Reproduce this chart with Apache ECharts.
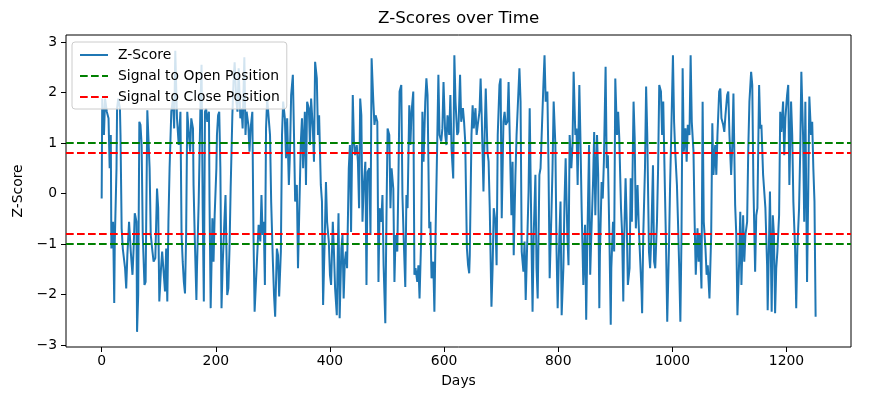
<!DOCTYPE html>
<html lang="en">
<head>
    <meta charset="UTF-8">
    <title>Z-Scores over Time</title>
    <script src="https://cdn.jsdelivr.net/npm/echarts@6/dist/echarts.min.js"></script>
    <style>
        html, body { margin: 0; padding: 0; background: #fff; }
        #main { width: 885px; height: 401px; }
    </style>
</head>
<body>
    <div id="main"></div>
    <script>
        // values (day, z-score)
        var days = [
            0, 1, 4, 6, 9, 12, 14, 16, 17, 20, 22, 23, 26, 27, 29, 32, 33, 35, 37, 41, 43, 45, 48, 51, 54, 56, 58, 61, 62, 64,
            66, 68, 70, 72, 75, 77, 80, 82, 84, 86, 89, 91, 94, 97, 99, 101, 104, 106, 109, 111, 113, 115, 117, 119, 122, 125, 127, 129,
            132, 135, 138, 140, 142, 144, 146, 148, 150, 153, 155, 157, 160, 161, 163, 166, 167, 170, 173, 175, 177, 179, 181, 183, 185, 188,
            189, 191, 194, 196, 198, 201, 202, 204, 206, 208, 210, 212, 215, 217, 220, 222, 224, 226, 229, 231, 233, 236, 238, 240, 243, 245,
            247, 250, 252, 254, 257, 259, 261, 264, 266, 268,
            272, 275, 278, 280, 282, 284, 286, 288, 290, 293, 295, 297, 300, 302, 304, 307, 309, 311, 314, 316, 318, 321, 323, 325, 328, 330,
            332, 335, 337, 339, 342, 344, 346, 349, 351, 353, 356, 358, 360, 363, 365, 367, 370, 372, 374, 377, 379, 381, 384, 386, 388, 391,
            393, 395, 398, 400, 402, 405, 407,
            409, 412, 414, 415, 417, 420, 422, 424, 426, 428, 430, 433, 435, 437, 440, 442, 444, 447, 449, 451, 453, 455, 457, 459, 462, 464,
            466, 469, 471, 473, 476, 478, 480, 483, 485, 487, 490, 492, 494, 497, 499, 501, 504, 506, 508, 511, 513, 515, 518, 520, 522, 525,
            527, 529, 532, 534, 536, 539, 541, 543, 546, 548, 550, 553, 555, 557, 560, 562, 564, 567, 569, 571, 574, 576, 578, 581, 583, 585,
            588, 590, 592, 595, 597, 599, 602, 604, 606, 609, 611, 613, 616, 618, 620, 623, 625,
            628, 630, 633, 635, 637, 640, 642, 644, 645, 648, 650, 652, 655, 657, 659, 662, 664, 666, 669, 671, 673, 676, 678, 680, 683, 685,
            687, 690, 692, 694, 697, 699, 701, 704, 706, 708, 711, 713, 715, 718, 720, 722, 725, 727, 729, 732, 734, 736, 739, 741, 743, 746,
            748, 750, 753, 755, 757, 760, 762, 764, 767, 769, 771, 774, 776, 778, 781, 783, 785, 788, 790, 792, 795, 797, 799, 802, 804, 806,
            809, 811, 813, 816, 818, 820, 823, 825, 827, 830, 832, 834, 837, 839, 841, 844,
            847, 849, 851, 854, 856, 858, 861, 863, 865, 868, 870, 872, 873, 876, 878, 880, 883, 885, 887, 890, 892, 893, 896, 898, 900, 903,
            905, 907, 910, 912, 914, 915, 918, 920, 922, 925, 927, 929, 932, 934, 936, 939, 941, 943, 946, 947, 949, 952, 954, 956, 959, 961,
            963, 966, 968, 970, 973, 975, 977, 980, 982, 984, 987, 989, 991, 994, 996, 998, 1001, 1003, 1005, 1008, 1010, 1012, 1014, 1016,
            1018, 1020, 1023, 1025, 1027, 1030, 1032, 1034, 1037, 1039, 1041, 1044, 1046, 1048, 1051, 1053, 1055, 1058, 1060, 1062,
            1065, 1068, 1070, 1072, 1075, 1077, 1079, 1082, 1084, 1086, 1089, 1091, 1093, 1096, 1098, 1100, 1103, 1105, 1107, 1110, 1112, 1114,
            1117, 1119, 1121, 1124, 1126, 1128, 1131, 1133, 1135, 1138, 1140, 1142, 1145, 1147, 1149, 1152, 1154, 1156, 1159, 1161, 1163, 1166,
            1167, 1169, 1171, 1174, 1176, 1178, 1180, 1182, 1184, 1187, 1189, 1191, 1194, 1196, 1198, 1201, 1203, 1205, 1208, 1210, 1212, 1215,
            1217, 1219, 1222, 1224, 1226, 1229, 1231, 1233, 1236, 1238, 1240, 1243, 1245, 1247, 1249, 1251
        ];
        var zScores = [
            -0.10, 1.88, 1.16, 1.88, 1.62, 1.49, 0.50, 1.16, -1.09, -0.56, -2.17, -0.95, 0.50, 1.69, 1.88, 1.69, 1.16, -0.69, -1.09, -1.48, -1.88, -1.22, -0.56, -1.15, -1.61, -1.09, -0.39, -0.56, -2.74, -2.01,
            1.42, 1.36, 0.96, -0.82, -1.81, -1.75, 1.65, 1.62, 0.50, -0.82, -1.15, -1.35, -1.28, 0.10, -0.29, -2.14, -1.48, -1.15, -1.12, -1.94, -1.09, -2.14, -0.56, 0.50, 1.62, 1.88, 1.29, 2.83,
            1.49, 0.96, 1.62, -0.82, -1.35, -1.75, -1.98, -0.82, 1.62, 1.65, 0.83, 1.49, 1.29, 0.17, -0.82, -2.11, -1.48, -0.16, 1.69, 2.55, -0.29, -2.14, 1.62, 1.69, 1.42, 1.62,
            -0.16, -2.27, -0.49, -1.35, -0.43, 0.50, 1.16, 1.55, 1.62, 0.50, -2.27, -1.42, -0.56, -0.03, -2.01, -1.88, -1.09, 0.10, 1.55, 2.21, 2.60, 1.82, 1.62, 2.48, 1.49, 1.69,
            1.29, 2.70, 1.16, 1.62, 1.36, 0.83, 1.29, 1.62, -0.82, -2.34,
            -1.35, -0.62, -0.95, -0.03, -0.82, -0.56, -1.81, 1.29, 1.88, 1.88, 1.16, -0.16, -1.35, -2.01, -2.44, -1.09, -1.22, -2.04, -1.15, 1.16, 1.82, 1.49, 0.70, 1.49, 0.17, 0.83,
            1.95, 2.35, 1.16, -0.16, 0.17, -1.48, -0.49, 1.03, 1.49, 0.50, 1.62, 0.17, 1.82, 1.69, 0.96, 1.88, 1.29, 0.63, 2.61, 2.28, 1.16, 1.55, 0.17, -0.16, -2.21, -0.82,
            0.23, -0.56, -0.95, -1.61, -1.81, -0.56, -1.15,
            -1.88, -2.41, -0.95, -0.39, -2.47, -1.09, -0.82, -2.08, -1.35, -1.15, -1.48, 0.50, 0.96, -0.76, 1.95, 1.03, 0.76, 0.96, 0.63, -0.29, 1.88, 1.55, -0.56, 0.10, 0.63, -1.81,
            0.43, 0.50, -0.82, 2.68, 1.82, 1.36, 1.55, 1.42, -1.75, -0.29, -0.56, -0.03, -1.42, -2.57, -0.49, 1.29, 1.16, -0.29, 0.50, 0.10, -1.75, -0.82, -1.15, 0.30, 2.02, 2.15,
            -0.03, -0.82, -1.85, -0.03, -0.29, 1.75, 0.96, 1.62, 2.02, -1.61, -1.48, -1.75, -1.42, -2.08, -0.82, 1.62, 0.63, 1.82, 2.28, 1.95, -0.69, -0.56, -1.68, -1.35, -2.34, -0.82,
            1.03, 2.35, 1.16, 1.03, 1.29, 2.21, 1.16, 0.96, 1.55, 1.16, 1.95, 0.89, 0.30, 2.74, 1.82, 1.16, 1.22,
            2.35, 1.42, 1.69, 1.42, 1.03, -1.09, -1.42, -1.58, -1.22, 1.16, 1.75, 1.29, 1.69, 1.16, 1.36, 1.62, 2.28, 1.49, 0.04, 1.16, 2.08, 0.83, 0.63, -0.29, -2.24, -1.48,
            -0.29, -0.56, -1.42, 1.16, 2.15, 2.28, -0.49, 1.42, 1.62, 1.36, 1.42, 2.21, 1.16, -0.43, 0.63, -1.22, 0.37, 1.16, 1.69, 2.48, 1.82, -1.15, -1.55, -0.95, -2.11, -0.82,
            0.04, 1.69, -0.82, -2.34, -0.82, 0.37, -1.48, -2.08, 0.37, 0.50, 1.16, 2.15, 2.74, 1.82, 2.02, 0.50, -1.68, -0.43, 0.50, 1.82, 0.96, -1.09, -2.27, -0.82, -0.16, -2.41,
            -1.48, -0.16, 0.70, -0.82, -1.42, 1.16, 0.50, 0.96, 2.41, 1.16, 1.29, 0.17, 2.15, 1.03, -0.29, -1.81,
            -0.62, -2.50, -0.95, 0.96, -1.61, -0.82, 0.23, 1.22, -0.43, 1.16, 0.37, -2.27, -1.22, 0.23, -0.10, 0.63, 2.51, 0.50, 0.76, -1.09, -2.60, -1.48, -0.56, -1.15, 2.28, 1.16,
            1.62, 1.09, -0.29, -0.82, -2.14, -1.15, 0.30, -0.56, -1.81, -1.48, 0.30, -0.56, 1.82, 1.09, -0.69, 0.17, -0.62, -1.15, -1.94, -2.37, -0.82, 0.50, 2.12, 1.16, -1.15, -1.48,
            -0.89, 0.56, -1.35, -1.48, -0.56, 0.50, 2.15, 2.02, 1.16, 1.82, 0.04, -1.09, -2.54, -1.09, 0.17, 1.16, 2.74, 1.42, 0.83, 0.17, -0.62, -1.48, -2.54, -0.82,
            2.48, 0.83, 1.29, 0.63, 1.36, 1.16, 2.74, 1.42, 0.83, -0.56, -1.61, -0.69, -1.35, -0.82, -1.88, 1.82, -0.56, -1.09, -1.61, -1.42,
            -2.08, -0.82, 1.39, 0.37, 0.96, 0.37, 1.16, 2.02, 2.08, 1.49, 1.36, 1.22, 1.55, 1.95, 2.02, 1.16, 0.37, 0.96, 1.98, -0.23, -0.82, -2.41,
            -1.35, -0.36, -1.81, -0.43, -1.35, -0.82, -0.56, 0.89, 1.82, 2.41, 2.15, 0.17, -1.55, -0.43, -0.29, 2.15, 1.29, 1.36, 0.37, 0.04, -0.29, -1.42,
            -2.31, -1.15, 0.04, -2.34, -0.43, -0.82, -2.37, -1.48, -1.15, -0.43, 1.62, 1.22, 1.82, 0.76, 1.49, 1.95, 2.15, 0.17, 1.82, 1.16, -0.16, -1.09,
            -2.27, -1.09, -0.29, 0.83, 2.41, 1.16, -0.56, 1.82, -1.75, -0.03, 1.92, 1.16, 1.42, 0.50, -0.16, -2.44
        ];
        var openLevels = [1, -1];
        var closeLevels = [0.8, -0.8];
        var xTicks = [0, 200, 400, 600, 800, 1000, 1200];
        var yTicks = [-3, -2, -1, 0, 1, 2, 3];

        var chart = echarts.init(document.getElementById('main'));
        var font = 'DejaVu Sans';

        var zData = days.map(function (d, i) { return [d, zScores[i]]; });

        function levelLines(levels) {
            return levels.map(function (v) { return { yAxis: v }; });
        }

        chart.setOption({
            animation: false,
            backgroundColor: '#ffffff',
            title: {
                text: 'Z-Scores over Time',
                left: 378,
                top: 10,
                padding: 0,
                textStyle: { fontFamily: font, fontSize: 16.7, fontWeight: 'normal', color: '#000' }
            },
            legend: {
                orient: 'vertical',
                left: 72,
                top: 42,
                padding: [6, 7, 5, 7],
                itemWidth: 28,
                itemHeight: 14,
                itemGap: 7,
                backgroundColor: 'rgba(255,255,255,0.8)',
                borderColor: '#cccccc',
                borderWidth: 1,
                borderRadius: 3,
                itemStyle: { opacity: 0 },
                textStyle: { fontFamily: font, fontSize: 13.9, color: '#000', padding: [0, 0, 0, 5] },
                data: ['Z-Score', 'Signal to Open Position', 'Signal to Close Position']
            },
            grid: {
                left: 66, right: 34, top: 35, bottom: 54,
                show: true, borderColor: '#000', borderWidth: 1, backgroundColor: 'transparent'
            },
            xAxis: {
                type: 'value',
                min: -62.5,
                max: 1313,
                name: 'Days',
                nameLocation: 'middle',
                nameGap: 27,
                nameTextStyle: { fontFamily: font, fontSize: 13.9, color: '#000' },
                axisLine: { show: false, onZero: false },
                splitLine: { show: false },
                axisTick: { show: true, length: 5, customValues: xTicks, lineStyle: { color: '#000', width: 1 } },
                axisLabel: {
                    customValues: xTicks, margin: 7, fontFamily: font, fontSize: 13.9, color: '#000',
                    formatter: function (v) { return String(v); }
                }
            },
            yAxis: {
                type: 'value',
                min: -3.04,
                max: 3.14,
                name: 'Z-Score',
                nameLocation: 'middle',
                nameGap: 37,
                nameTextStyle: { fontFamily: font, fontSize: 13.9, color: '#000' },
                axisLine: { show: false, onZero: false },
                splitLine: { show: false },
                axisTick: { show: true, length: 5, customValues: yTicks, lineStyle: { color: '#000', width: 1 } },
                axisLabel: {
                    customValues: yTicks, margin: 9, fontFamily: font, fontSize: 13.9, color: '#000',
                    formatter: function (v) { return String(v).replace('-', '\u2212'); }
                }
            },
            series: [
                {
                    name: 'Z-Score',
                    type: 'line',
                    data: zData,
                    symbol: 'none',
                    color: '#1f77b4',
                    lineStyle: { color: '#1f77b4', width: 2 },
                    z: 2
                },
                {
                    name: 'Signal to Open Position',
                    type: 'line',
                    data: [],
                    symbol: 'none',
                    color: '#008000',
                    lineStyle: { color: '#008000', width: 2, type: [7.7, 3.3] },
                    markLine: {
                        silent: true,
                        symbol: 'none',
                        label: { show: false },
                        lineStyle: { color: '#008000', width: 2, type: [7.7, 3.3] },
                        data: levelLines(openLevels)
                    },
                    z: 3
                },
                {
                    name: 'Signal to Close Position',
                    type: 'line',
                    data: [],
                    symbol: 'none',
                    color: '#ff0000',
                    lineStyle: { color: '#ff0000', width: 2, type: [7.7, 3.3] },
                    markLine: {
                        silent: true,
                        symbol: 'none',
                        label: { show: false },
                        lineStyle: { color: '#ff0000', width: 2, type: [7.7, 3.3] },
                        data: levelLines(closeLevels)
                    },
                    z: 3
                }
            ]
        });
    </script>
</body>
</html>
